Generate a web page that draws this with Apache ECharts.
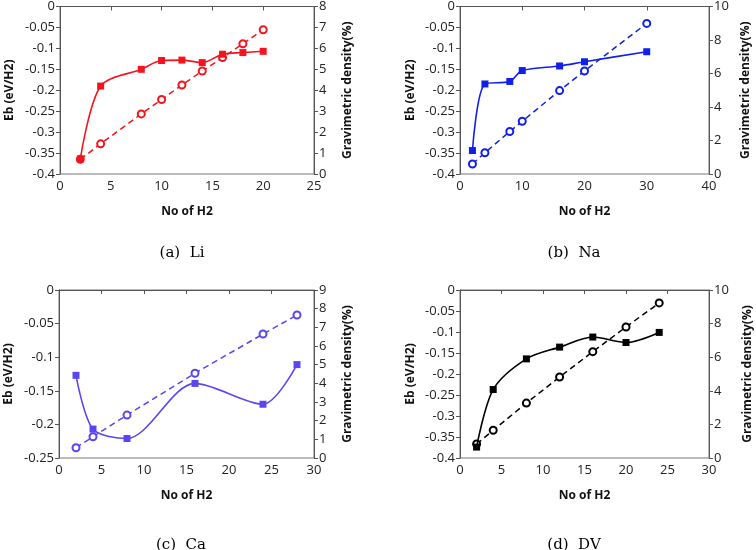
<!DOCTYPE html>
<html>
<head>
<meta charset="utf-8">
<script src="https://cdn.jsdelivr.net/npm/echarts@6/dist/echarts.min.js"></script>
<style>html,body{margin:0;padding:0;background:#fff;}#c{width:756px;height:550px;}</style>
</head>
<body>
<div id="c"></div>
<script>
// ---- data ----
const liX = [2, 4, 8, 10, 12, 14, 16, 18, 20];
const liEb = [-0.364, -0.19, -0.15, -0.129, -0.128, -0.134, -0.114, -0.110, -0.107];
const liDensity = [0.70, 1.44, 2.87, 3.56, 4.25, 4.92, 5.56, 6.22, 6.89];

const naX = [2, 4, 8, 10, 16, 20, 30];
const naEb = [-0.344, -0.185, -0.179, -0.153, -0.142, -0.132, -0.108];
const naDensity = [0.60, 1.27, 2.54, 3.15, 4.98, 6.15, 8.99];

const caX = [2, 4, 8, 16, 24, 28];
const caEb = [-0.127, -0.207, -0.221, -0.139, -0.170, -0.111];
const caDensity = [0.55, 1.14, 2.30, 4.54, 6.64, 7.66];

const dvX = [2, 4, 8, 12, 16, 20, 24];
const dvEb = [-0.374, -0.237, -0.164, -0.136, -0.112, -0.125, -0.101];
const dvDensity = [0.83, 1.65, 3.27, 4.82, 6.33, 7.80, 9.23];

const captions = ['(a)  Li', '(b)  Na', '(c)  Ca', '(d)  DV'];
const xAxisTitle = 'No of H2';
const leftAxisTitle = 'Eb (eV/H2)';
const rightAxisTitle = 'Gravimetric density(%)';

// ---- layout / style ----
const panels = [
  {x: liX, eb: liEb, d: liDensity, color: '#f5141e', grid: {left: 60, top: 6, width: 254, height: 168},
   xMax: 25, xInt: 5, ebMin: -0.4, rMax: 8, rInt: 1, lGap: 44, rGap: 28, cap: [177, 248]},
  {x: naX, eb: naEb, d: naDensity, color: '#1020ea', grid: {left: 460, top: 6, width: 249, height: 168},
   xMax: 40, xInt: 10, ebMin: -0.4, rMax: 10, rInt: 2, lGap: 43, rGap: 31, cap: [569, 248]},
  {x: caX, eb: caEb, d: caDensity, color: '#5a46f0', grid: {left: 59, top: 290, width: 255, height: 168},
   xMax: 30, xInt: 5, ebMin: -0.25, rMax: 9, rInt: 1, lGap: 44, rGap: 28, cap: [176, 540]},
  {x: dvX, eb: dvEb, d: dvDensity, color: '#000000', grid: {left: 460, top: 290, width: 249, height: 168},
   xMax: 30, xInt: 5, ebMin: -0.4, rMax: 10, rInt: 2, lGap: 43, rGap: 33, cap: [569, 540]}
];

const axisColor = '#555';
const tickFont = {fontFamily: 'Open Sans', fontSize: 13, color: '#222'};
const nameFont = {fontFamily: 'Open Sans', fontSize: 12, fontWeight: 'bold', color: '#111'};

const option = {
  animation: false,
  backgroundColor: '#fff',
  grid: [], xAxis: [], yAxis: [], series: [], title: []
};

panels.forEach((p, i) => {
  option.grid.push(Object.assign({show: true, borderColor: '#777', borderWidth: 1}, p.grid));
  option.xAxis.push({
    type: 'value', gridIndex: i, min: 0, max: p.xMax, interval: p.xInt,
    name: xAxisTitle, nameLocation: 'middle', nameGap: 32, nameTextStyle: nameFont,
    axisLine: {show: true, lineStyle: {color: axisColor}},
    axisTick: {show: true, inside: false, length: 4, lineStyle: {color: axisColor}},
    axisLabel: Object.assign({margin: 6}, tickFont),
    splitLine: {show: false}
  });
  option.yAxis.push({
    type: 'value', gridIndex: i, min: p.ebMin, max: 0, interval: 0.05, position: 'left',
    name: leftAxisTitle, nameLocation: 'middle', nameGap: p.lGap, nameTextStyle: nameFont,
    axisLine: {show: true, lineStyle: {color: axisColor}},
    axisTick: {show: true, inside: false, length: 4, lineStyle: {color: axisColor}},
    axisLabel: Object.assign({margin: 5}, tickFont),
    splitLine: {show: false}
  });
  option.yAxis.push({
    type: 'value', gridIndex: i, min: 0, max: p.rMax, interval: p.rInt, position: 'right',
    name: rightAxisTitle, nameLocation: 'middle', nameGap: p.rGap, nameRotate: 90,
    nameTextStyle: nameFont,
    axisLine: {show: true, lineStyle: {color: axisColor}},
    axisTick: {show: true, inside: false, length: 4, lineStyle: {color: axisColor}},
    axisLabel: Object.assign({margin: 5}, tickFont),
    splitLine: {show: false}
  });
  option.series.push({
    type: 'line', xAxisIndex: i, yAxisIndex: 2 * i,
    data: p.x.map((v, k) => [v, p.eb[k]]),
    smooth: 0.3, symbol: 'rect', symbolSize: 7,
    itemStyle: {color: p.color}, lineStyle: {color: p.color, width: 1.6}, z: 3
  });
  option.series.push({
    type: 'line', xAxisIndex: i, yAxisIndex: 2 * i + 1,
    data: p.x.map((v, k) => [v, p.d[k]]),
    smooth: false, symbol: 'emptyCircle', symbolSize: 7,
    itemStyle: {color: p.color, borderColor: p.color, borderWidth: 1},
    lineStyle: {color: p.color, width: 1.5, type: [6, 4]}, z: 2
  });
  option.title.push({
    text: captions[i], left: p.cap[0], top: p.cap[1], textAlign: 'center', textVerticalAlign: 'middle',
    textStyle: {fontFamily: 'DejaVu Serif', fontSize: 15, fontWeight: 'normal', color: '#000'}
  });
});

const chart = echarts.init(document.getElementById('c'), null, {renderer: 'canvas'});
chart.setOption(option);
</script>
</body>
</html>
